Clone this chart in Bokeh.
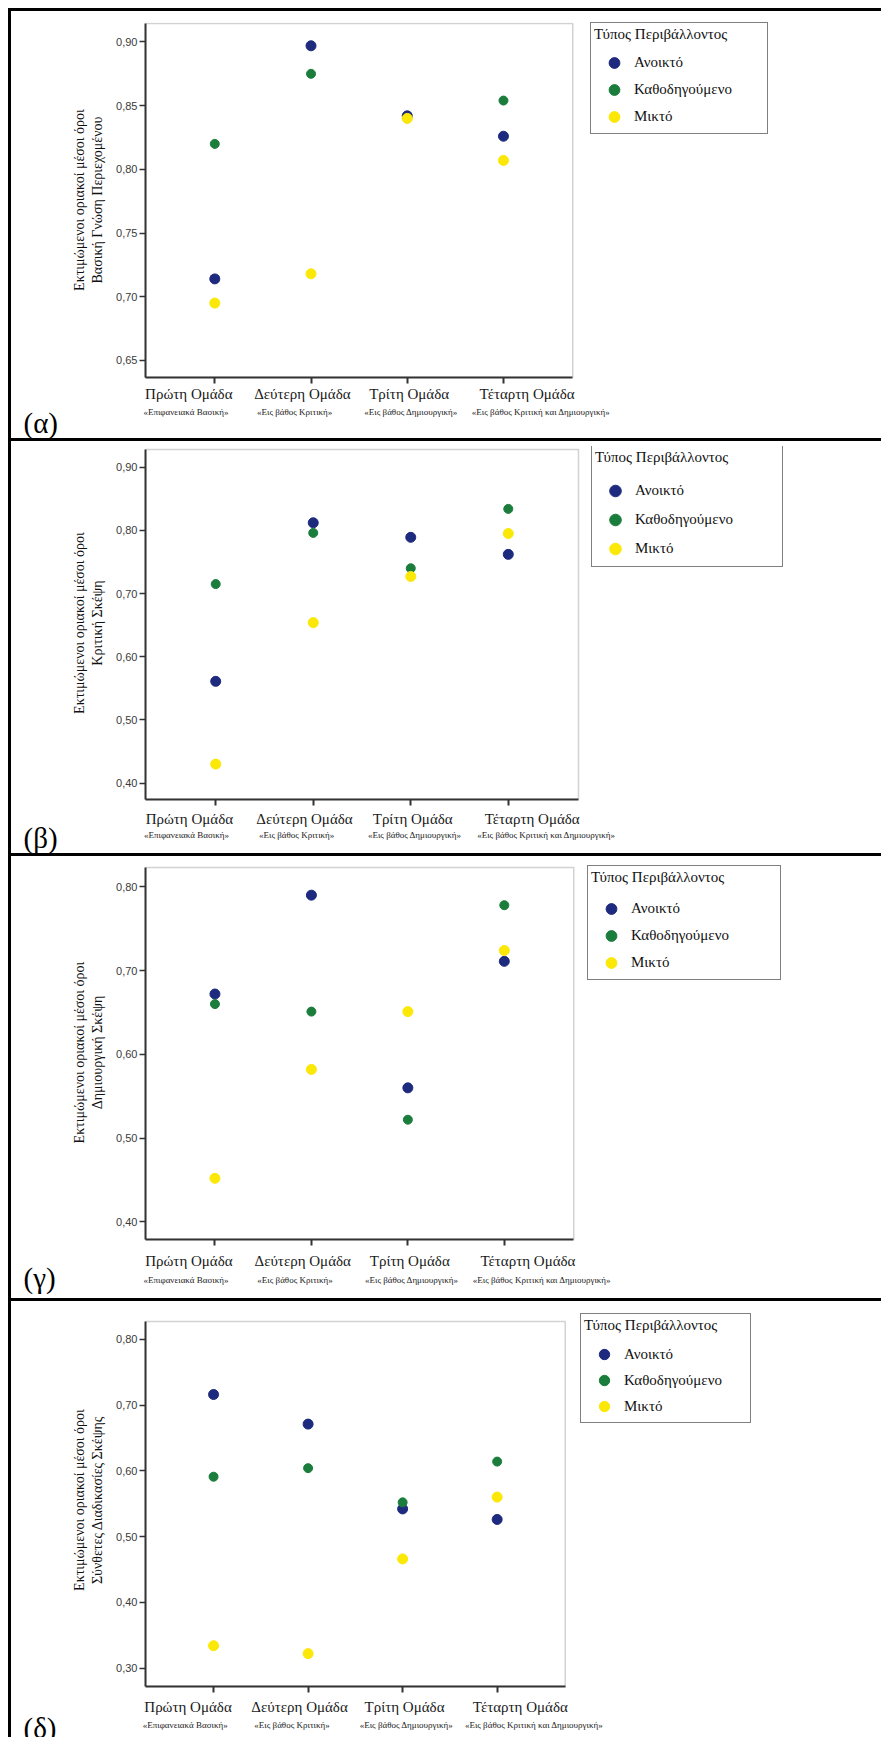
from bokeh.plotting import figure
from bokeh.models import (Range1d, FixedTicker, LinearAxis, CustomJSTickFormatter,
                          Legend, LegendItem, Label, Div, BoxAnnotation)
from bokeh.layouts import column, row
from bokeh.embed import file_html
from bokeh.resources import INLINE

# ---------------- data ----------------
groups = ["Πρώτη Ομάδα", "Δεύτερη Ομάδα", "Τρίτη Ομάδα", "Τέταρτη Ομάδα"]
group_subtitles = ["«Επιφανειακά Βασική»", "«Εις βάθος Κριτική»",
                   "«Εις βάθος Δημιουργική»", "«Εις βάθος Κριτική και Δημιουργική»"]
environments = ["Ανοικτό", "Καθοδηγούμενο", "Μικτό"]
legend_title = "Τύπος Περιβάλλοντος"
y_title_common = "Εκτιμώμενοι οριακοί μέσοι όροι"
panel_tags = ["(α)", "(β)", "(γ)", "(δ)"]
panel_measures = ["Βασική Γνώση Περιεχομένου", "Κριτική Σκέψη",
                  "Δημιουργική Σκέψη", "Σύνθετες Διαδικασίες Σκέψης"]

# (α) Βασική Γνώση Περιεχομένου
a_open = [0.714, 0.897, 0.842, 0.826]
a_guided = [0.820, 0.875, 0.840, 0.854]
a_mixed = [0.695, 0.718, 0.840, 0.807]
a_ticks = [0.65, 0.70, 0.75, 0.80, 0.85, 0.90]

# (β) Κριτική Σκέψη
b_open = [0.561, 0.812, 0.789, 0.762]
b_guided = [0.715, 0.796, 0.740, 0.834]
b_mixed = [0.430, 0.654, 0.727, 0.795]
b_ticks = [0.40, 0.50, 0.60, 0.70, 0.80, 0.90]

# (γ) Δημιουργική Σκέψη
c_open = [0.672, 0.790, 0.560, 0.711]
c_guided = [0.660, 0.651, 0.522, 0.778]
c_mixed = [0.452, 0.582, 0.651, 0.724]
c_ticks = [0.40, 0.50, 0.60, 0.70, 0.80]

# (δ) Σύνθετες Διαδικασίες Σκέψης
d_open = [0.716, 0.671, 0.542, 0.526]
d_guided = [0.591, 0.604, 0.552, 0.614]
d_mixed = [0.334, 0.322, 0.466, 0.560]
d_ticks = [0.30, 0.40, 0.50, 0.60, 0.70, 0.80]

panel_series = [
    (a_open, a_guided, a_mixed, a_ticks),
    (b_open, b_guided, b_mixed, b_ticks),
    (c_open, c_guided, c_mixed, c_ticks),
    (d_open, d_guided, d_mixed, d_ticks),
]

# ---------------- style / layout ----------------
COLORS = ["#1d2a7e", "#1b7d3b", "#fbe806"]
SIZES = [10, 9, 10]
SERIF = "Liberation Serif"
SANS = "Liberation Sans"
FIG_W = 870
LINE = 3
PAGE_PAD = 8
BOX_X = (0.28, 4.72)  # x extent of the plot box
MAIN_OFF = [-0.27, -0.09, 0.02, 0.245]
SUB_OFF = [-0.30, -0.17, 0.04, 0.39]

# per panel: fig height, frame top / box top / box bottom / box left (px), box width,
# y extent of box, label standoffs, tag baseline, legend position & geometry
PANELS = [
    dict(h=427, ftop=11, top=12, bottom=61, left=131, bw=429, yr=(0.6366, 0.9145),
         s1=2, s2=2, tag_y=411, lg=dict(vx=445, vy=243, w=176, ih=27, ts=6)),
    dict(h=412, ftop=5, top=8, bottom=54, left=134, bw=433, yr=(0.374, 0.928),
         s1=5, s2=0, tag_y=396, lg=dict(vx=446, vy=232, w=190, ih=29, ts=10)),
    dict(h=442, ftop=9, top=11, bottom=59, left=131, bw=430, yr=(0.379, 0.823),
         s1=7, s2=3, tag_y=421, lg=dict(vx=442, vy=259, w=192, ih=27, ts=9)),
    dict(h=436, ftop=12, top=20, bottom=51, left=130, bw=422, yr=(0.272, 0.827),
         s1=6, s2=2, tag_y=426, lg=dict(vx=435, vy=263, w=169, ih=26, ts=7)),
]

xs = [i + 1 for i in range(len(groups))]
main_pos = [x + o for x, o in zip(xs, MAIN_OFF)]
sub_pos = [x + o for x, o in zip(xs, SUB_OFF)]

label_code = """
for (let i = 0; i < pos.length; i++) {
  if (Math.abs(pos[i] - tick) < 1e-6) return names[i];
}
return "";
"""


def make_panel(idx):
    cfg = PANELS[idx]
    opn, gui, mix, yt = panel_series[idx]

    # the frame runs from the plot box to the right edge of the canvas (legend inside it)
    frame_w = FIG_W - cfg["left"]
    px_per_x = cfg["bw"] / (BOX_X[1] - BOX_X[0])
    x_end = BOX_X[0] + frame_w / px_per_x
    y0, y1 = cfg["yr"]
    box_h = cfg["h"] - cfg["top"] - cfg["bottom"]
    y_end = y1 + (cfg["top"] - cfg["ftop"]) * (y1 - y0) / box_h

    p = figure(width=FIG_W, height=cfg["h"], output_backend="svg", toolbar_location=None,
               x_range=Range1d(BOX_X[0], x_end), y_range=Range1d(y0, y_end),
               x_axis_location=None, y_axis_location="left",
               min_border_left=cfg["left"], min_border_right=0,
               min_border_top=cfg["ftop"], min_border_bottom=cfg["bottom"],
               background_fill_color="white", border_fill_color="white")
    p.grid.visible = False
    p.outline_line_color = None

    box = BoxAnnotation(left=BOX_X[0], right=BOX_X[1], bottom=y0, top=y1,
                        fill_color=None, fill_alpha=0, line_color="#6a6a6a",
                        line_width=1.5, level="underlay")
    p.add_layout(box)

    # y axis
    ya = p.yaxis[0]
    ya.bounds = (y0, y1)
    ya.ticker = FixedTicker(ticks=yt)
    ya.formatter = CustomJSTickFormatter(code="return tick.toFixed(2).replace('.', ',');")
    ya.major_tick_out = 6
    ya.major_tick_in = 0
    ya.minor_tick_line_color = None
    ya.axis_line_color = "#333333"
    ya.axis_line_width = 2
    ya.major_tick_line_color = "#333333"
    ya.major_tick_line_width = 1.5
    ya.major_label_text_font = SANS
    ya.major_label_text_font_size = "11px"
    ya.major_label_text_color = "#3a3a3a"
    ya.major_label_standoff = 2
    ya.axis_label = y_title_common + "\n" + panel_measures[idx]
    ya.axis_label_text_font = SERIF
    ya.axis_label_text_font_size = "14px"
    ya.axis_label_text_font_style = "normal"
    ya.axis_label_text_color = "#111111"
    ya.axis_label_standoff = 8

    # x axis: ticks only
    tick_ax = LinearAxis(ticker=FixedTicker(ticks=xs), bounds=BOX_X,
                         major_tick_out=6, major_tick_in=0,
                         minor_tick_line_color=None, axis_line_color="#333333",
                         axis_line_width=2, major_tick_line_color="#333333",
                         major_tick_line_width=2, major_label_text_font_size="0px",
                         major_label_standoff=0)
    tick_ax.formatter = CustomJSTickFormatter(code="return '';")
    p.add_layout(tick_ax, "below")

    # x axis: group names
    name_ax = LinearAxis(ticker=FixedTicker(ticks=main_pos), major_tick_out=0, major_tick_in=0,
                         minor_tick_line_color=None, axis_line_color=None,
                         major_tick_line_color=None, major_label_standoff=cfg["s1"],
                         major_label_text_font=SERIF, major_label_text_font_size="15px",
                         major_label_text_color="#1a1a1a")
    name_ax.formatter = CustomJSTickFormatter(args=dict(pos=main_pos, names=groups), code=label_code)
    p.add_layout(name_ax, "below")

    # x axis: group descriptions
    sub_ax = LinearAxis(ticker=FixedTicker(ticks=sub_pos), major_tick_out=0, major_tick_in=0,
                        minor_tick_line_color=None, axis_line_color=None,
                        major_tick_line_color=None, major_label_standoff=cfg["s2"],
                        major_label_text_font=SERIF, major_label_text_font_size="9px",
                        major_label_text_color="#1a1a1a")
    sub_ax.formatter = CustomJSTickFormatter(args=dict(pos=sub_pos, names=group_subtitles), code=label_code)
    p.add_layout(sub_ax, "below")

    items = []
    for vals, col, sz, name in zip((opn, gui, mix), COLORS, SIZES, environments):
        r = p.scatter(xs, vals, marker="circle", size=sz, fill_color=col, line_color=col)
        items.append(LegendItem(label=name, renderers=[r]))

    lg = cfg["lg"]
    pad = 3
    gw = 40
    legend = Legend(items=items, location=(lg["vx"], lg["vy"]), title=legend_title,
                    title_text_font=SERIF, title_text_font_size="15px",
                    title_text_font_style="normal", title_text_color="#111111",
                    title_standoff=lg["ts"],
                    label_text_font=SERIF, label_text_font_size="15px",
                    label_text_color="#111111",
                    glyph_width=gw, glyph_height=lg["ih"], label_height=lg["ih"],
                    label_width=lg["w"] - 2 * pad - gw, label_standoff=0,
                    spacing=0, padding=pad, margin=0,
                    border_line_color="black", border_line_width=1,
                    background_fill_color="white", background_fill_alpha=1.0)
    p.add_layout(legend, "center")

    # panel tag (α)...(δ) in the left border area
    tag = Label(x=12, y=cfg["tag_y"], x_units="canvas", y_units="canvas",
                text=panel_tags[idx], text_font=SERIF, text_font_size="29px",
                text_baseline="alphabetic", text_align="left", text_color="black")
    p.add_layout(tag, "left")
    return p


def hline():
    return Div(text="", width=FIG_W, height=LINE, margin=0,
               styles={"background-color": "black"})


panels = [make_panel(i) for i in range(4)]
col = column(hline(), panels[0], hline(), panels[1], hline(), panels[2], hline(), panels[3],
             spacing=0)
total_h = LINE * 4 + sum(c["h"] for c in PANELS)
vline = Div(text="", width=LINE, height=total_h, margin=0, styles={"background-color": "black"})
layout = row(vline, col, spacing=0, margin=(PAGE_PAD, 0, 0, PAGE_PAD))

open("out.html", "w").write(file_html(layout, INLINE))
